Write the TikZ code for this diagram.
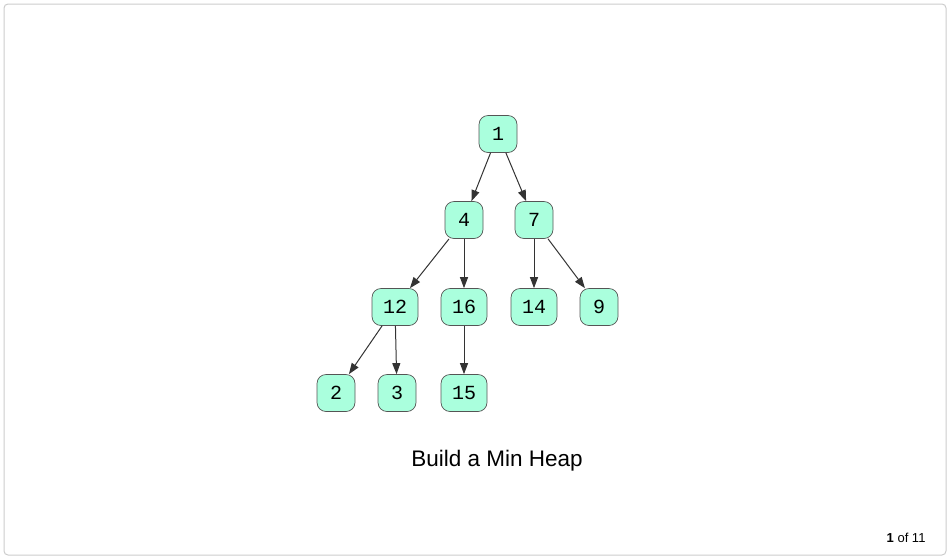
\documentclass[tikz,border=0pt]{standalone}
\usepackage{fontspec}
\setmainfont{Liberation Sans}
\newfontfamily\monofont{Liberation Mono}
\usetikzlibrary{arrows.meta}
\definecolor{nodefill}{HTML}{AAFFDD}
\definecolor{nodeline}{HTML}{555555}
\definecolor{edgecol}{HTML}{333333}
\definecolor{framecol}{HTML}{CCCCCC}
\tikzset{
  heapnode/.style={draw=nodeline, fill=nodefill, rounded corners=9pt, line width=0.7pt,
    minimum height=37pt, minimum width=38pt, inner xsep=4pt, font=\monofont\fontsize{20}{20}\selectfont},
  widenode/.style={heapnode, minimum width=46pt},
  heapedge/.style={draw=edgecol, line width=1pt, -{Triangle[length=11pt,width=8pt]}},
}
\begin{document}
\begin{tikzpicture}[x=1pt,y=-1pt]
\useasboundingbox (0,0) rectangle (950,558);
\draw[framecol, rounded corners=4pt, line width=1pt] (4,4) rectangle (946,555);
\node[heapnode] (n1) at (498,134) {1};
\node[heapnode] (n4) at (464,220) {4};
\node[heapnode] (n7) at (534,220) {7};
\node[widenode] (n12) at (395,307) {12};
\node[widenode] (n16) at (464,307) {16};
\node[widenode] (n14) at (534,307) {14};
\node[heapnode] (n9) at (599,307) {9};
\node[heapnode] (n2) at (336,393) {2};
\node[heapnode] (n3) at (397,393) {3};
\node[widenode] (n15) at (464,393) {15};
\draw[heapedge] (n1) -- (n4);
\draw[heapedge] (n1) -- (n7);
\draw[heapedge] (n4) -- (n12);
\draw[heapedge] (n4) -- (n16);
\draw[heapedge] (n7) -- (n14);
\draw[heapedge] (n7) -- (n9);
\draw[heapedge] (n12) -- (n2);
\draw[heapedge] (n12) -- (n3);
\draw[heapedge] (n16) -- (n15);
\node[font=\fontsize{22.5}{22.5}\selectfont] (cap) at (497,461) {Build a Min Heap};
\node[font=\fontsize{13}{13}\selectfont, anchor=east] (pg) at (929,538) {\textbf{1} of 11};
\end{tikzpicture}
\end{document}
